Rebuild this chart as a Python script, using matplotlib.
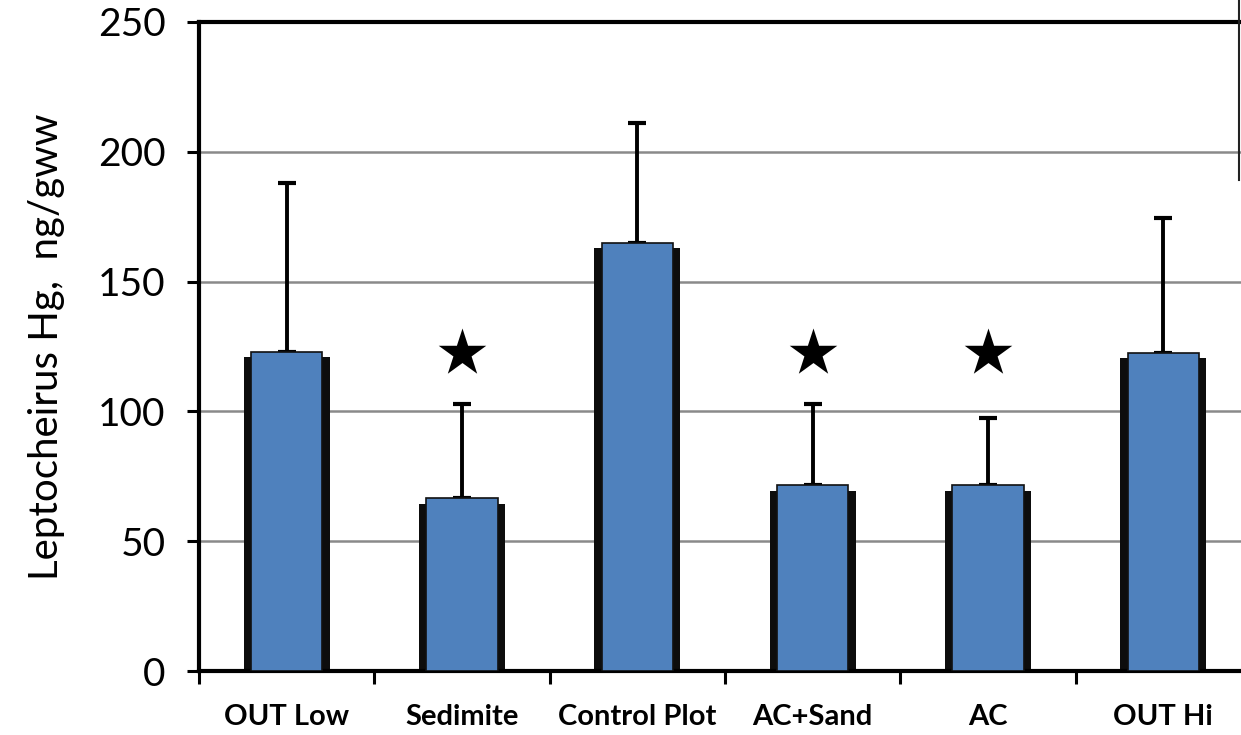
import numpy as np
import matplotlib.pyplot as plt
from matplotlib.lines import Line2D
from matplotlib.ticker import FixedLocator

# Hg in Leptocheirus by plot (ng/g wet weight)
groups = ['OUT Low', 'Sedimite', 'Control Plot', 'AC+Sand', 'AC', 'OUT Hi']
mean_hg = [123, 66.5, 165, 71.5, 71.5, 122.5]
err_hg = [65, 36.5, 46, 31.5, 26, 52]
# groups flagged as significantly different
star_groups = ['Sedimite', 'AC+Sand', 'AC']
star_level = [122.5, 122.5, 122.5]

plt.rcParams['font.family'] = ['Lato', 'DejaVu Sans']

fig = plt.figure(figsize=(12.41, 7.35), dpi=100)
ax = fig.add_axes([199/1241, 1 - 671/735, 1052/1241, (671 - 22)/735])

x = np.arange(len(groups))
blue = '#4f81bd'

# dark side walls behind each bar, then the blue face
ax.bar(x, np.array(mean_hg) - 2, width=0.49, color='#0d0d0d', zorder=2)
ax.bar(x, mean_hg, width=0.405, color=blue, edgecolor='#111111',
       linewidth=1.2, zorder=3)

ax.errorbar(x, mean_hg, yerr=[np.zeros(len(x)), err_hg], fmt='none',
            ecolor='black', elinewidth=2.8, capsize=6.5, capthick=3, zorder=1)

sx = [groups.index(g) for g in star_groups]
ax.scatter(sx, star_level, marker='*', s=36**2, color='black', zorder=4,
           linewidths=0)

ax.set_xlim(-0.5, len(groups) - 0.5)
ax.set_ylim(0, 250)
ax.set_yticks([0, 50, 100, 150, 200, 250])
ax.set_xticks(x)
ax.set_xticklabels(groups, fontsize=21, fontweight='bold')
ax.xaxis.set_minor_locator(FixedLocator(np.arange(-0.5, len(groups), 1)))
ax.tick_params(axis='x', which='major', length=0, pad=24)
ax.tick_params(axis='x', which='minor', length=9, width=2.2, direction='out')
ax.tick_params(axis='y', length=9, width=2.2, direction='out', pad=15,
               labelsize=28)

for yv in [50, 100, 150, 200]:
    ax.axhline(yv, color='#8a8a8a', linewidth=1.8, zorder=0)

for s in ['left', 'bottom', 'top']:
    ax.spines[s].set_linewidth(3)
ax.spines['right'].set_visible(False)

ax.set_ylabel('Leptocheirus Hg,  ng/gww', fontsize=29, labelpad=24)

fig.add_artist(Line2D([1239/1241, 1239/1241], [1, 1 - 180/735],
                      color='#222222', linewidth=1.5))

fig.savefig('out.png', dpi=100)
